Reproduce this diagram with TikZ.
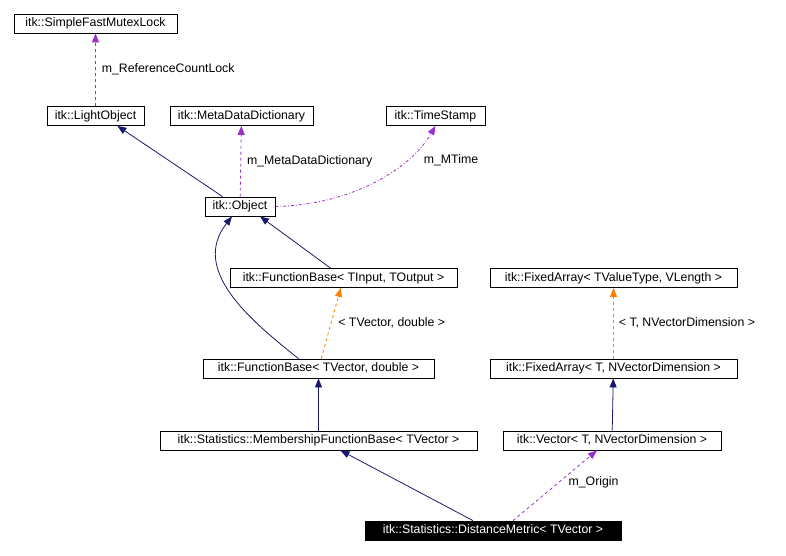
\documentclass[tikz,border=0pt]{standalone}
\usepackage{fontspec}
\setmainfont{Liberation Sans}
\usetikzlibrary{arrows.meta}
\begin{document}
\begin{tikzpicture}[x=1pt,y=-1pt,line width=0.8pt,
  box/.style={draw=black,fill=white,inner sep=0pt,minimum height=19pt,text height=9pt,text depth=2.5pt,font=\fontsize{12.3}{14}\selectfont},
  inh/.style={draw={rgb,255:red,25;green,25;blue,112},-{Triangle[length=9pt,width=7pt]}},
  use/.style={draw={rgb,255:red,153;green,50;blue,204},dashed,-{Triangle[length=9pt,width=7pt]}},
  tmpl/.style={draw=orange,dashed,-{Triangle[length=9pt,width=7pt]}},
  lbl/.style={font=\fontsize{12.3}{14}\selectfont,inner sep=1pt}]
\useasboundingbox (0,0) rectangle (786,555);
\node[box,minimum width=163pt] (mutex) at (95.5,23.5) {itk::SimpleFastMutexLock};
\node[box,minimum width=97pt] (light) at (95.5,116) {itk::LightObject};
\node[box,minimum width=143pt] (meta) at (241.5,116) {itk::MetaDataDictionary};
\node[box,minimum width=99pt] (time) at (435.5,116) {itk::TimeStamp};
\node[box,minimum width=70pt] (obj) at (240,206.5) {itk::Object};
\node[box,minimum width=227pt] (fbio) at (343.5,278) {itk::FunctionBase< TInput, TOutput >};
\node[box,minimum width=247pt] (fav) at (613.5,278) {itk::FixedArray< TValueType, VLength >};
\node[box,minimum width=231pt] (fbvd) at (318.5,368.5) {itk::FunctionBase< TVector, double >};
\node[box,minimum width=247pt] (fat) at (613.5,368.5) {itk::FixedArray< T, NVectorDimension >};
\node[box,minimum width=317pt] (memb) at (318.5,440.5) {itk::Statistics::MembershipFunctionBase< TVector >};
\node[box,minimum width=218pt] (vec) at (612,440.5) {itk::Vector< T, NVectorDimension >};
\node[box,fill=black,text=white,minimum width=256pt] (dist) at (493,530.5) {itk::Statistics::DistanceMetric< TVector >};

\draw[use] (light) -- node[lbl,right,xshift=5pt]{m\_ReferenceCountLock} (mutex);
\draw[inh] ([xshift=18pt]obj.north west) -- ([xshift=-27pt]light.south east);
\draw[use] (obj) -- node[lbl,right,xshift=5pt,pos=0.5]{m\_MetaDataDictionary} (meta);
\draw[use,dash dot] (obj.east) .. controls (350,205) and (410,170) .. (time.south);
\node[lbl] (mt) at (451,160) {m\_MTime};
\draw[inh] ([xshift=-13pt]fbio.north) -- ([xshift=20pt]obj.south);
\draw[inh] ([xshift=-20pt]fbvd.north) .. controls (250,320) and (190,270) .. ([xshift=-8pt]obj.south);
\draw[tmpl] (fbvd) -- node[lbl,right,xshift=6pt]{< TVector, double >} (fbio);
\draw[tmpl] (fat) -- node[lbl,right,xshift=4pt]{< T, NVectorDimension >} (fav);
\draw[inh] (vec) -- (fat);
\draw[inh] (memb) -- (fbvd);
\draw[inh] ([xshift=-20pt]dist.north) -- ([xshift=22pt]memb.south);
\draw[use] ([xshift=20pt]dist.north) -- node[lbl,right,xshift=8pt,pos=0.55]{m\_Origin} ([xshift=-15pt]vec.south);
\end{tikzpicture}
\end{document}
